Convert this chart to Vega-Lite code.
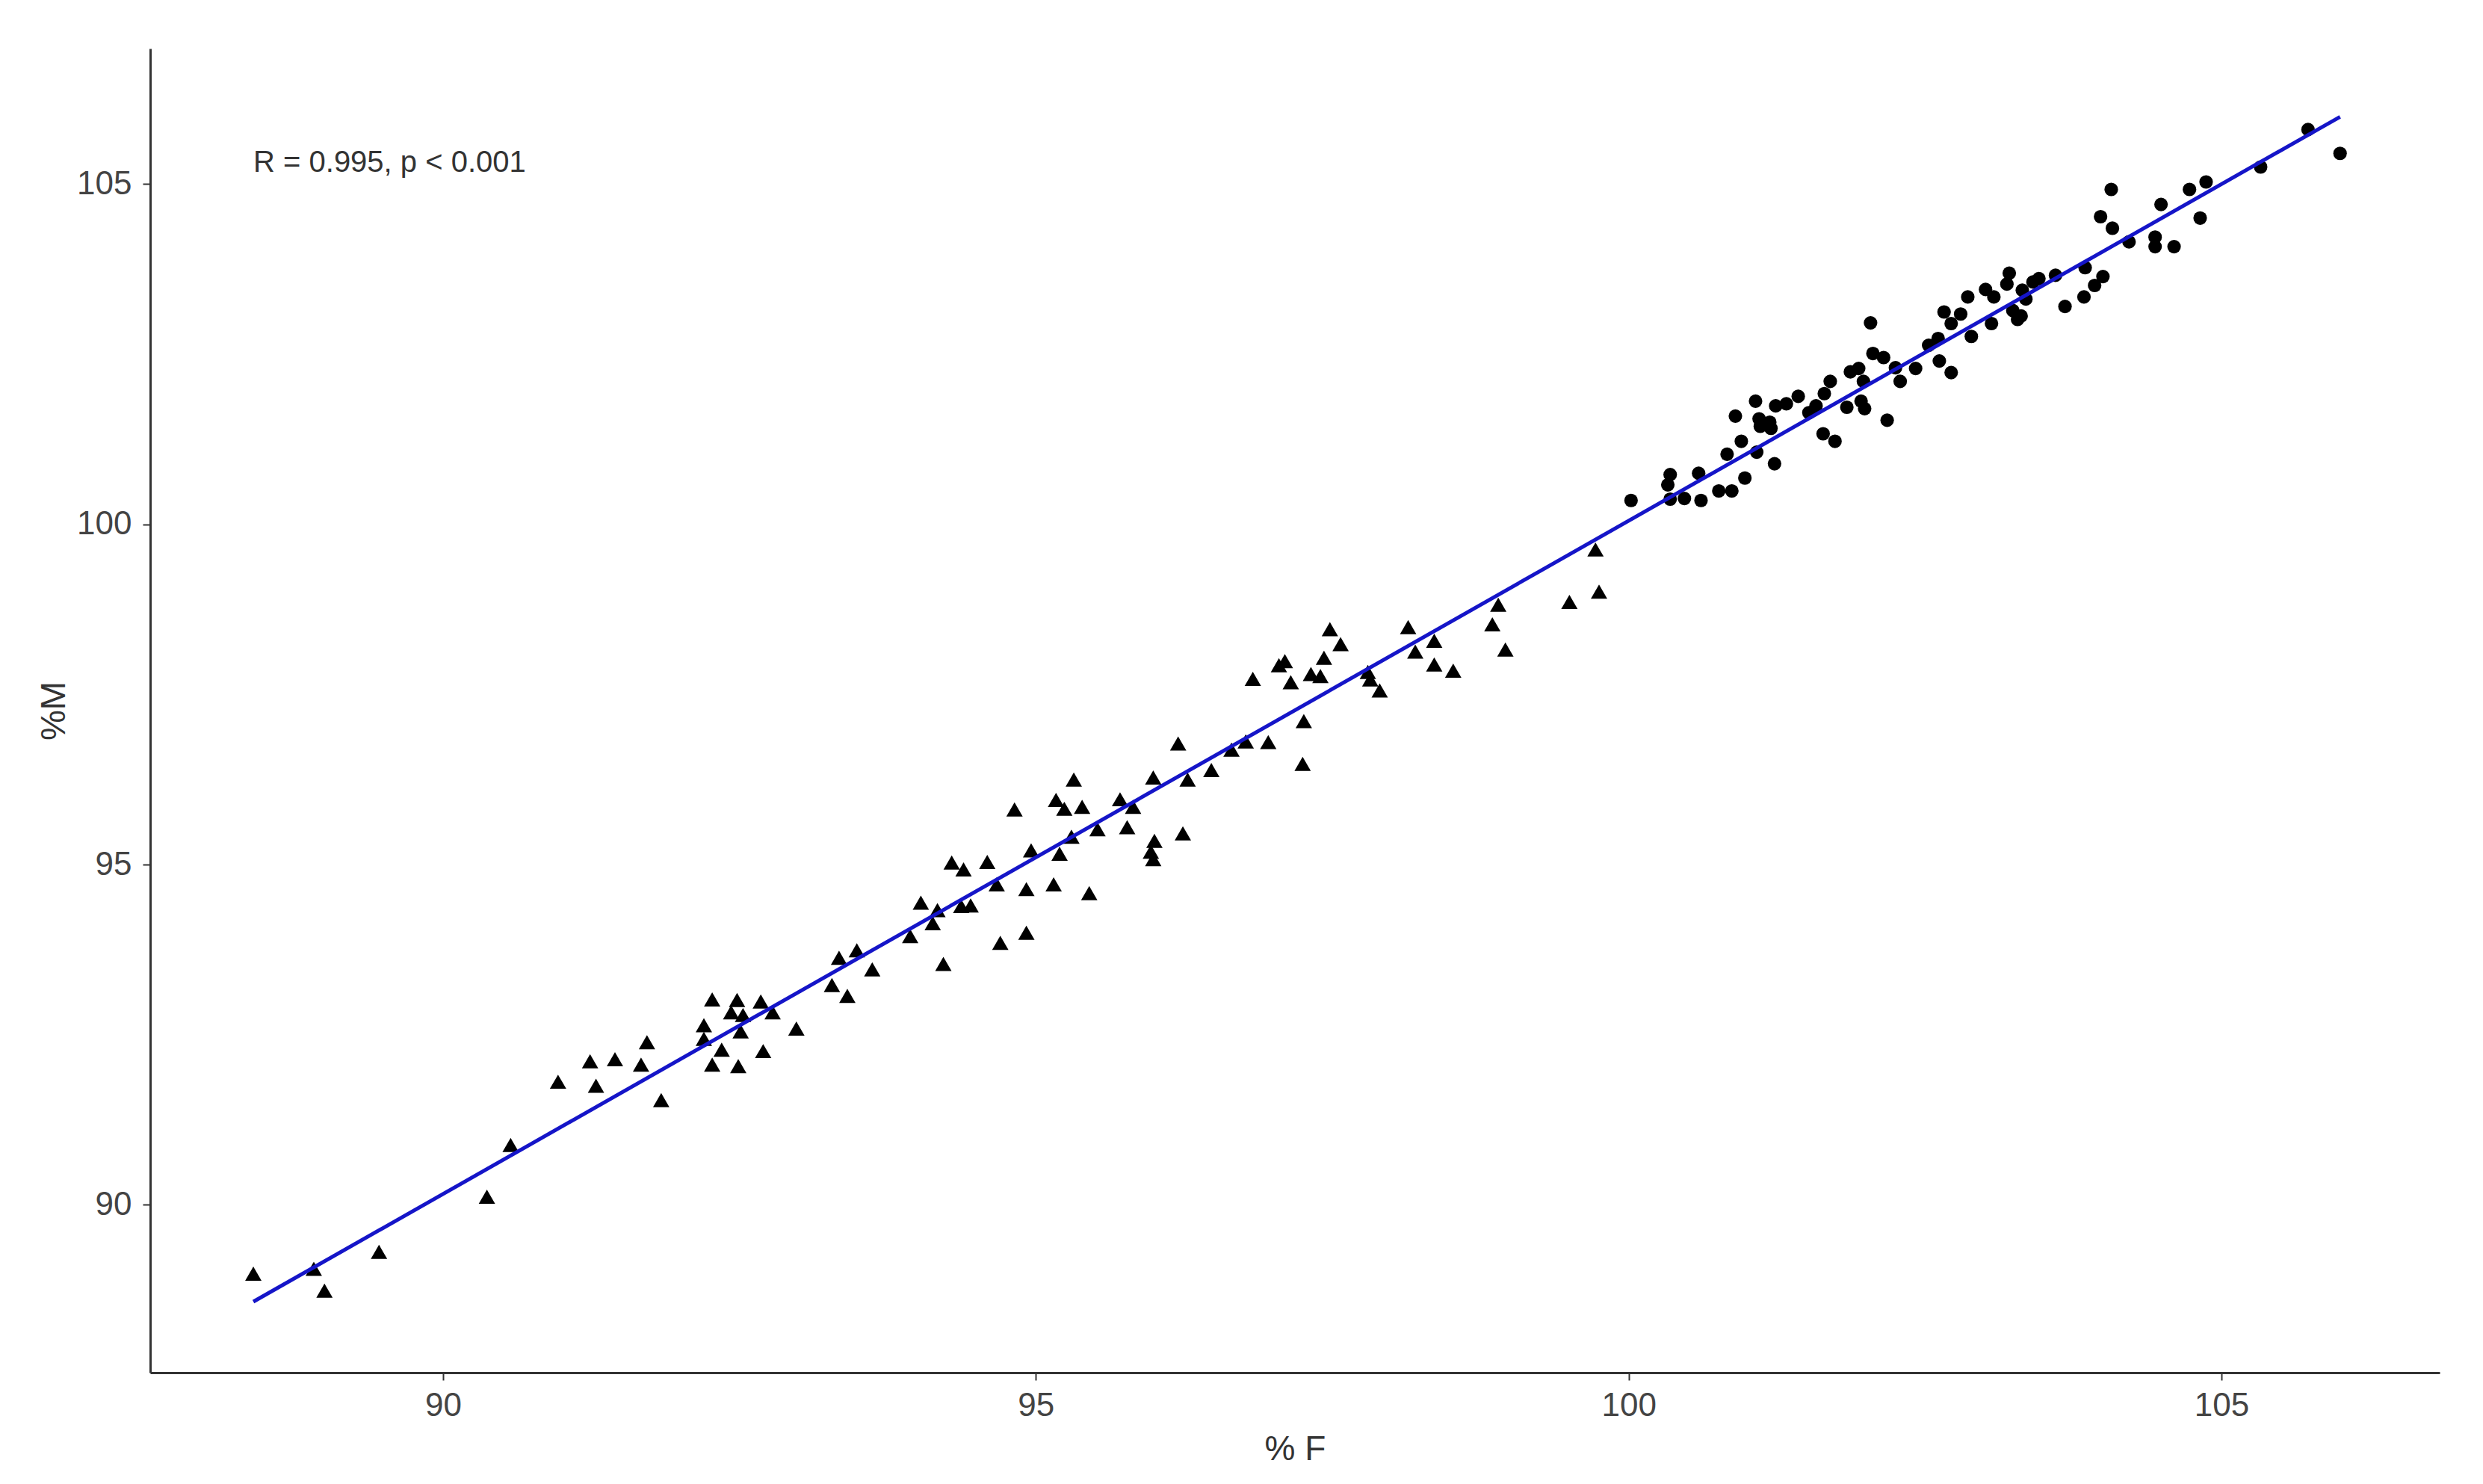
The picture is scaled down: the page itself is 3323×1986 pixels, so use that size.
{
  "$schema": "https://vega.github.io/schema/vega-lite/v6.json",
  "width": 3064,
  "height": 1772,
  "autosize": {"type": "none"},
  "padding": {"left": 201, "top": 65, "right": 58, "bottom": 149},
  "background": "white",
  "config": {
    "view": {"stroke": null},
    "font": "Liberation Sans",
    "axis": {
      "grid": false,
      "domainColor": "#333333",
      "domainWidth": 3,
      "tickColor": "#333333",
      "tickWidth": 2,
      "tickSize": 10,
      "labelFont": "Liberation Sans",
      "labelFontSize": 44,
      "labelColor": "#444444",
      "titleFont": "Liberation Sans",
      "titleFontSize": 46,
      "titleFontWeight": "normal",
      "titleColor": "#333333"
    }
  },
  "datasets": {
    "points": [
      {"F": 88.40, "M": 88.99, "group": "A"},
      {"F": 88.91, "M": 89.06, "group": "A"},
      {"F": 89.00, "M": 88.74, "group": "A"},
      {"F": 89.46, "M": 89.31, "group": "A"},
      {"F": 90.37, "M": 90.12, "group": "A"},
      {"F": 90.57, "M": 90.88, "group": "A"},
      {"F": 90.97, "M": 91.81, "group": "A"},
      {"F": 91.24, "M": 92.11, "group": "A"},
      {"F": 91.29, "M": 91.75, "group": "A"},
      {"F": 91.45, "M": 92.14, "group": "A"},
      {"F": 91.67, "M": 92.06, "group": "A"},
      {"F": 91.72, "M": 92.39, "group": "A"},
      {"F": 91.84, "M": 91.54, "group": "A"},
      {"F": 92.27, "M": 93.02, "group": "A"},
      {"F": 92.20, "M": 92.64, "group": "A"},
      {"F": 92.20, "M": 92.44, "group": "A"},
      {"F": 92.48, "M": 93.01, "group": "A"},
      {"F": 92.43, "M": 92.83, "group": "A"},
      {"F": 92.53, "M": 92.79, "group": "A"},
      {"F": 92.51, "M": 92.55, "group": "A"},
      {"F": 92.35, "M": 92.28, "group": "A"},
      {"F": 92.27, "M": 92.06, "group": "A"},
      {"F": 92.49, "M": 92.04, "group": "A"},
      {"F": 92.68, "M": 92.99, "group": "A"},
      {"F": 92.78, "M": 92.83, "group": "A"},
      {"F": 92.70, "M": 92.26, "group": "A"},
      {"F": 92.98, "M": 92.59, "group": "A"},
      {"F": 93.34, "M": 93.63, "group": "A"},
      {"F": 93.49, "M": 93.74, "group": "A"},
      {"F": 93.28, "M": 93.23, "group": "A"},
      {"F": 93.41, "M": 93.07, "group": "A"},
      {"F": 93.62, "M": 93.46, "group": "A"},
      {"F": 93.94, "M": 93.95, "group": "A"},
      {"F": 94.03, "M": 94.44, "group": "A"},
      {"F": 94.17, "M": 94.33, "group": "A"},
      {"F": 94.13, "M": 94.14, "group": "A"},
      {"F": 94.22, "M": 93.54, "group": "A"},
      {"F": 94.29, "M": 95.03, "group": "A"},
      {"F": 94.39, "M": 94.93, "group": "A"},
      {"F": 94.37, "M": 94.39, "group": "A"},
      {"F": 94.45, "M": 94.40, "group": "A"},
      {"F": 94.59, "M": 95.04, "group": "A"},
      {"F": 94.67, "M": 94.71, "group": "A"},
      {"F": 94.70, "M": 93.85, "group": "A"},
      {"F": 94.92, "M": 94.00, "group": "A"},
      {"F": 94.92, "M": 94.64, "group": "A"},
      {"F": 94.96, "M": 95.21, "group": "A"},
      {"F": 95.15, "M": 94.71, "group": "A"},
      {"F": 95.20, "M": 95.16, "group": "A"},
      {"F": 95.30, "M": 95.41, "group": "A"},
      {"F": 95.45, "M": 94.58, "group": "A"},
      {"F": 94.82, "M": 95.81, "group": "A"},
      {"F": 95.17, "M": 95.95, "group": "A"},
      {"F": 95.24, "M": 95.82, "group": "A"},
      {"F": 95.32, "M": 96.25, "group": "A"},
      {"F": 95.39, "M": 95.85, "group": "A"},
      {"F": 95.52, "M": 95.52, "group": "A"},
      {"F": 95.71, "M": 95.96, "group": "A"},
      {"F": 95.82, "M": 95.85, "group": "A"},
      {"F": 95.77, "M": 95.55, "group": "A"},
      {"F": 95.99, "M": 96.28, "group": "A"},
      {"F": 96.00, "M": 95.35, "group": "A"},
      {"F": 95.97, "M": 95.19, "group": "A"},
      {"F": 95.99, "M": 95.08, "group": "A"},
      {"F": 96.24, "M": 95.46, "group": "A"},
      {"F": 96.20, "M": 96.78, "group": "A"},
      {"F": 96.28, "M": 96.25, "group": "A"},
      {"F": 96.48, "M": 96.39, "group": "A"},
      {"F": 96.65, "M": 96.69, "group": "A"},
      {"F": 96.77, "M": 96.81, "group": "A"},
      {"F": 96.96, "M": 96.80, "group": "A"},
      {"F": 96.83, "M": 97.73, "group": "A"},
      {"F": 97.05, "M": 97.93, "group": "A"},
      {"F": 97.10, "M": 97.99, "group": "A"},
      {"F": 97.15, "M": 97.68, "group": "A"},
      {"F": 97.26, "M": 97.11, "group": "A"},
      {"F": 97.25, "M": 96.48, "group": "A"},
      {"F": 97.32, "M": 97.80, "group": "A"},
      {"F": 97.40, "M": 97.77, "group": "A"},
      {"F": 97.43, "M": 98.04, "group": "A"},
      {"F": 97.48, "M": 98.46, "group": "A"},
      {"F": 97.57, "M": 98.24, "group": "A"},
      {"F": 97.80, "M": 97.83, "group": "A"},
      {"F": 97.82, "M": 97.72, "group": "A"},
      {"F": 97.90, "M": 97.56, "group": "A"},
      {"F": 98.14, "M": 98.49, "group": "A"},
      {"F": 98.20, "M": 98.13, "group": "A"},
      {"F": 98.36, "M": 98.29, "group": "A"},
      {"F": 98.36, "M": 97.94, "group": "A"},
      {"F": 98.52, "M": 97.85, "group": "A"},
      {"F": 98.85, "M": 98.53, "group": "A"},
      {"F": 98.90, "M": 98.82, "group": "A"},
      {"F": 98.96, "M": 98.16, "group": "A"},
      {"F": 99.50, "M": 98.86, "group": "A"},
      {"F": 99.75, "M": 99.01, "group": "A"},
      {"F": 99.72, "M": 99.63, "group": "A"},
      {"F": 100.02, "M": 100.35, "group": "B"},
      {"F": 100.35, "M": 100.73, "group": "B"},
      {"F": 100.33, "M": 100.58, "group": "B"},
      {"F": 100.35, "M": 100.37, "group": "B"},
      {"F": 100.47, "M": 100.38, "group": "B"},
      {"F": 100.59, "M": 100.75, "group": "B"},
      {"F": 100.61, "M": 100.35, "group": "B"},
      {"F": 100.76, "M": 100.49, "group": "B"},
      {"F": 100.87, "M": 100.49, "group": "B"},
      {"F": 100.98, "M": 100.68, "group": "B"},
      {"F": 100.83, "M": 101.03, "group": "B"},
      {"F": 100.95, "M": 101.22, "group": "B"},
      {"F": 101.08, "M": 101.06, "group": "B"},
      {"F": 100.90, "M": 101.59, "group": "B"},
      {"F": 101.07, "M": 101.81, "group": "B"},
      {"F": 101.10, "M": 101.55, "group": "B"},
      {"F": 101.11, "M": 101.44, "group": "B"},
      {"F": 101.19, "M": 101.50, "group": "B"},
      {"F": 101.20, "M": 101.41, "group": "B"},
      {"F": 101.24, "M": 101.74, "group": "B"},
      {"F": 101.33, "M": 101.77, "group": "B"},
      {"F": 101.43, "M": 101.88, "group": "B"},
      {"F": 101.23, "M": 100.89, "group": "B"},
      {"F": 101.52, "M": 101.64, "group": "B"},
      {"F": 101.58, "M": 101.74, "group": "B"},
      {"F": 101.65, "M": 101.92, "group": "B"},
      {"F": 101.70, "M": 102.10, "group": "B"},
      {"F": 101.64, "M": 101.33, "group": "B"},
      {"F": 101.74, "M": 101.22, "group": "B"},
      {"F": 101.84, "M": 101.72, "group": "B"},
      {"F": 101.87, "M": 102.24, "group": "B"},
      {"F": 101.94, "M": 102.29, "group": "B"},
      {"F": 101.98, "M": 102.10, "group": "B"},
      {"F": 101.96, "M": 101.81, "group": "B"},
      {"F": 101.99, "M": 101.70, "group": "B"},
      {"F": 102.04, "M": 102.96, "group": "B"},
      {"F": 102.06, "M": 102.51, "group": "B"},
      {"F": 102.15, "M": 102.45, "group": "B"},
      {"F": 102.18, "M": 101.53, "group": "B"},
      {"F": 102.25, "M": 102.30, "group": "B"},
      {"F": 102.29, "M": 102.10, "group": "B"},
      {"F": 102.42, "M": 102.29, "group": "B"},
      {"F": 102.53, "M": 102.63, "group": "B"},
      {"F": 102.61, "M": 102.73, "group": "B"},
      {"F": 102.62, "M": 102.40, "group": "B"},
      {"F": 102.72, "M": 102.23, "group": "B"},
      {"F": 102.66, "M": 103.12, "group": "B"},
      {"F": 102.72, "M": 102.95, "group": "B"},
      {"F": 102.80, "M": 103.09, "group": "B"},
      {"F": 102.86, "M": 103.34, "group": "B"},
      {"F": 102.89, "M": 102.76, "group": "B"},
      {"F": 103.01, "M": 103.45, "group": "B"},
      {"F": 103.08, "M": 103.34, "group": "B"},
      {"F": 103.06, "M": 102.95, "group": "B"},
      {"F": 103.21, "M": 103.69, "group": "B"},
      {"F": 103.19, "M": 103.53, "group": "B"},
      {"F": 103.24, "M": 103.14, "group": "B"},
      {"F": 103.28, "M": 103.01, "group": "B"},
      {"F": 103.32, "M": 103.44, "group": "B"},
      {"F": 103.41, "M": 103.56, "group": "B"},
      {"F": 103.35, "M": 103.31, "group": "B"},
      {"F": 103.31, "M": 103.06, "group": "B"},
      {"F": 103.46, "M": 103.61, "group": "B"},
      {"F": 103.60, "M": 103.66, "group": "B"},
      {"F": 103.68, "M": 103.20, "group": "B"},
      {"F": 103.84, "M": 103.34, "group": "B"},
      {"F": 103.85, "M": 103.77, "group": "B"},
      {"F": 103.93, "M": 103.51, "group": "B"},
      {"F": 104.00, "M": 103.64, "group": "B"},
      {"F": 104.07, "M": 104.92, "group": "B"},
      {"F": 103.98, "M": 104.52, "group": "B"},
      {"F": 104.08, "M": 104.35, "group": "B"},
      {"F": 104.22, "M": 104.15, "group": "B"},
      {"F": 104.44, "M": 104.22, "group": "B"},
      {"F": 104.44, "M": 104.08, "group": "B"},
      {"F": 104.60, "M": 104.08, "group": "B"},
      {"F": 104.49, "M": 104.70, "group": "B"},
      {"F": 104.73, "M": 104.92, "group": "B"},
      {"F": 104.87, "M": 105.03, "group": "B"},
      {"F": 104.82, "M": 104.50, "group": "B"},
      {"F": 105.33, "M": 105.25, "group": "B"},
      {"F": 105.73, "M": 105.80, "group": "B"},
      {"F": 106.00, "M": 105.45, "group": "B"}
    ],
    "annotation": [
      {"label": "R = 0.995, p < 0.001", "F": 88.40, "M": 105.18}
    ]
  },
  "layer": [
    {
      "data": {"name": "points"},
      "transform": [{"filter": "datum.group === 'A'"}],
      "mark": {"type": "point", "shape": "triangle-up", "filled": true, "color": "#000000", "opacity": 1, "size": 480},
      "encoding": {
        "x": {
          "field": "F",
          "type": "quantitative",
          "scale": {"domain": [87.53, 106.84], "nice": false, "zero": false},
          "axis": {"values": [90, 95, 100, 105], "format": "d", "title": "% F", "labelPadding": 12, "titlePadding": 14}
        },
        "y": {
          "field": "M",
          "type": "quantitative",
          "scale": {"domain": [87.535, 106.99], "nice": false, "zero": false},
          "axis": {"values": [90, 95, 100, 105], "format": "d", "title": "%M", "labelPadding": 15, "titlePadding": 6}
        }
      }
    },
    {
      "data": {"name": "points"},
      "transform": [{"filter": "datum.group === 'B'"}],
      "mark": {"type": "point", "shape": "circle", "filled": true, "color": "#000000", "opacity": 1, "size": 330},
      "encoding": {
        "x": {"field": "F", "type": "quantitative"},
        "y": {"field": "M", "type": "quantitative"}
      }
    },
    {
      "data": {"name": "points"},
      "transform": [{"regression": "M", "on": "F"}],
      "mark": {"type": "line", "color": "#1515c8", "strokeWidth": 5},
      "encoding": {
        "x": {"field": "F", "type": "quantitative"},
        "y": {"field": "M", "type": "quantitative"}
      }
    },
    {
      "data": {"name": "annotation"},
      "mark": {"type": "text", "align": "left", "baseline": "alphabetic", "fontSize": 40, "color": "#333333", "font": "Liberation Sans"},
      "encoding": {
        "x": {"field": "F", "type": "quantitative"},
        "y": {"field": "M", "type": "quantitative"},
        "text": {"field": "label", "type": "nominal"}
      }
    }
  ]
}
